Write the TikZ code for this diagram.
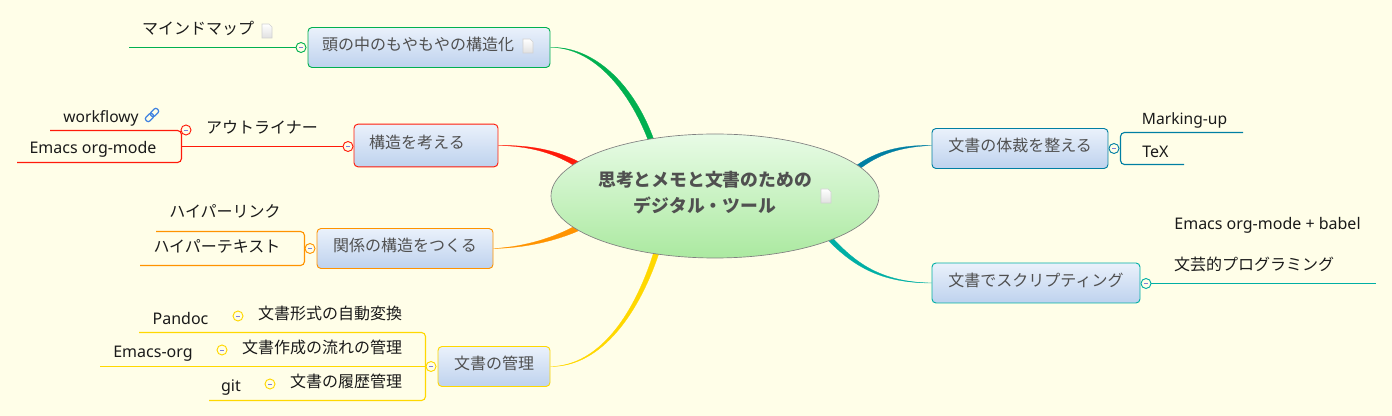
\documentclass[tikz,border=0pt]{standalone}
\usepackage{fontspec}
\setmainfont{Noto Sans}
\newfontfamily\cjk{Noto Sans CJK JP}
\usepackage{xcolor}
\usetikzlibrary{arrows.meta,positioning,calc,backgrounds,shapes.geometric}
\definecolor{paper}{HTML}{FFFEE8}
\definecolor{ink}{HTML}{1A1A1A}
\definecolor{boxInk}{HTML}{505050}
\definecolor{boxTop}{HTML}{EAF1FB}
\definecolor{boxBottom}{HTML}{BED2EE}
\definecolor{rootTop}{HTML}{E8FBE6}
\definecolor{rootBottom}{HTML}{ABE9A0}
\definecolor{mapGreen}{HTML}{00B050}
\definecolor{mapRed}{HTML}{FF1A0A}
\definecolor{mapOrange}{HTML}{FF9300}
\definecolor{mapYellow}{HTML}{FFD800}
\definecolor{mapBlue}{HTML}{007FA3}
\definecolor{mapTeal}{HTML}{00AFA5}
\definecolor{linkBlue}{HTML}{3F82E0}
\newcommand\jp{\fontsize{12}{14}\selectfont\cjk}
\tikzset{
  docicon/.pic={\draw[black!18,top color=white,bottom color=black!12,line width=0.4pt] (-5,-7) -- (2,-7) -- (5,-4) -- (5,7) -- (-5,7) -- cycle;},
  linkicon/.pic={\draw[linkBlue,line width=0.9pt,rounded corners=1.5pt,rotate=45] (-8,-2.6) rectangle (1,2.6) (-1,-2.6) rectangle (8,2.6);}
}
\begin{document}
\begin{tikzpicture}[x=0.75pt,y=-0.75pt,font=\fontsize{12}{14}\selectfont,text=ink,
  topic/.style={draw=#1,line width=0.7pt,rounded corners=3pt,top color=boxTop,bottom color=boxBottom,text=boxInk,minimum height=30pt,inner sep=0pt,font=\jp,text depth=5.2pt},
  collapse/.style={circle,draw=#1,line width=0.7pt,fill=paper,minimum size=7.5pt,inner sep=0pt,
    path picture={\draw[black!30!blue!50,line width=0.5pt] ($(path picture bounding box.center)+(-2,0)$) -- ($(path picture bounding box.center)+(2,0)$);}},
  branch/.style={fill=#1,draw=#1,line width=0.2pt},
  sub/.style={inner sep=0pt},
  twig/.style={draw=#1,line width=0.85pt,rounded corners=3pt}]
\useasboundingbox (0,0) rectangle (1392,416);
% central topic
\node[ellipse,draw=black!50,line width=0.5pt,top color=rootTop,bottom color=rootBottom,text=boxInk,font=\fontsize{13.35}{20}\selectfont\cjk\bfseries,
  minimum width=246pt,minimum height=93pt,inner sep=0pt,align=center,text depth=6pt] (root) at (715,196)
  {\makebox[150pt][c]{思考とメモと文書のための\hspace{15pt}}\\[0pt]\makebox[150pt][c]{デジタル・ツール\hspace{15pt}}};
\pic at (826,196) {docicon};
% main topics
\node[topic=mapGreen,minimum width=181.5pt] (struct) at (429,47.5) {\mbox{頭の中のもやもやの構造化\hspace{16.5pt}}};
\pic at (528,46) {docicon};
\node[topic=mapRed,minimum width=108pt,minimum height=32pt] (think) at (426,145.5) {\mbox{構造を考える\hspace{13.5pt}}};
\node[topic=mapOrange,minimum width=132pt] (relate) at (405,248.5) {関係の構造をつくる};
\node[topic=mapYellow,minimum width=84pt] (manage) at (494,366.5) {文書の管理};
\node[topic=mapBlue,minimum width=132pt] (format) at (1020,148.5) {文書の体裁を整える};
\node[topic=mapTeal,minimum width=156pt] (script) at (1036,283) {文書でスクリプティング};
% branches
\begin{scope}[on background layer]
\fill[paper] (0,0) rectangle (1392,416);
\draw[branch=mapGreen] (struct.east) .. controls (590,47) and (628,85) .. (650,145) -- (655,143) .. controls (634,82) and (592,46) .. (struct.east) -- cycle;
\draw[branch=mapRed] (think.east) .. controls (530,146) and (555,153) .. (578,168) -- (581,163) .. controls (557,150) and (530,145) .. (think.east) -- cycle;
\draw[branch=mapOrange] (relate.east) .. controls (525,248) and (555,241) .. (578,231) -- (575,226) .. controls (555,237) and (525,247) .. (relate.east) -- cycle;
\draw[branch=mapYellow] (manage.east) .. controls (600,366) and (636,312) .. (655,248) -- (660,250) .. controls (640,312) and (602,367) .. (manage.east) -- cycle;
\draw[branch=mapBlue] (format.178) .. controls (900,145) and (875,151) .. (853,168) -- (857,171) .. controls (878,154) and (900,147) .. (format.178) -- cycle;
\draw[branch=mapTeal] (script.west) .. controls (880,283) and (852,266) .. (824,236) -- (829,234) .. controls (855,263) and (880,282) .. (script.west) -- cycle;
\end{scope}
% upper left
\node[collapse=mapGreen] (colStruct) at (301,47.5) {};
\coordinate (mindEnd) at (129,47.5);
\draw[twig=mapGreen] (colStruct) -- (mindEnd);
\node[sub,font=\jp] (mind) at (198,28) {マインドマップ};
\pic at (267,31) {docicon};
\node[collapse=mapRed] (colThink) at (348,146.5) {};
\node[collapse=mapRed] (colOutline) at (186,130) {};
\node[sub,font=\jp] (outline) at (262,127) {アウトライナー};
\node[sub,font=\fontsize{11.7}{14}\selectfont] (flowy) at (101,118.5) {workflowy};
\pic at (152,115) {linkicon};
\node[sub] (emacsOrg) at (93,149) {Emacs org-mode};
\coordinate (flowyEnd) at (50,130.5);
\coordinate (emacsEnd) at (17,162.5);
\coordinate (thinkJoin) at (181.5,146.5);
\draw[twig=mapRed] (colThink) -- (thinkJoin);
\draw[twig=mapRed] (flowyEnd) -- (181.5,130.5) -- (181.5,162.5) -- (emacsEnd);
% relations
\node[collapse=mapOrange] (colRelate) at (310,248.5) {};
\node[sub,font=\jp] (hyperlink) at (225,211) {ハイパーリンク};
\node[sub,font=\jp] (hypertext) at (217,246) {ハイパーテキスト};
\coordinate (linkEnd) at (156,231.5);
\coordinate (textEnd) at (140,265.5);
\draw[twig=mapOrange] (linkEnd) -- (304.5,231.5) -- (304.5,265.5) -- (textEnd);
% document management
\node[collapse=mapYellow] (colManage) at (431,366.5) {};
\node[sub] (pandoc) at (180.5,318.5) {Pandoc};
\node[collapse=mapYellow] (colPandoc) at (238,316) {};
\node[sub,font=\jp] (convert) at (330,313) {文書形式の自動変換};
\node[sub] (emacsB) at (153,353.5) {Emacs-org};
\node[collapse=mapYellow] (colEmacs) at (222,350) {};
\node[sub,font=\jp] (flow) at (322,347) {文書作成の流れの管理};
\node[sub] (git) at (231,387.5) {git};
\node[collapse=mapYellow] (colGit) at (270,384) {};
\node[sub,font=\jp] (history) at (346,381) {文書の履歴管理};
\coordinate (pandocEnd) at (139,332.5);
\coordinate (emacsBEnd) at (100,366.5);
\coordinate (gitEnd) at (209,400.5);
\draw[twig=mapYellow] (colManage) -- (emacsBEnd);
\draw[twig=mapYellow] (pandocEnd) -- (425.5,332.5) -- (425.5,400.5) -- (gitEnd);
% right side
\node[collapse=mapBlue] (colFormat) at (1114,148.5) {};
\node[sub,font=\fontsize{11.7}{14}\selectfont] (marking) at (1184.5,120.5) {Marking-up};
\node[sub] (tex) at (1155.5,151.5) {TeX};
\coordinate (markEnd) at (1243,132.5);
\coordinate (texEnd) at (1184,164.5);
\draw[twig=mapBlue] (markEnd) -- (1120.5,132.5) -- (1120.5,164.5) -- (texEnd);
\node[collapse=mapTeal] (colScript) at (1146,283.5) {};
\coordinate (scriptEnd) at (1376,283.5);
\draw[twig=mapTeal] (colScript) -- (scriptEnd);
\node[sub] (babel) at (1267.5,225.5) {Emacs org-mode + babel};
\node[sub,font=\jp] (literate) at (1254,264) {文芸的プログラミング};
\end{tikzpicture}
\end{document}
